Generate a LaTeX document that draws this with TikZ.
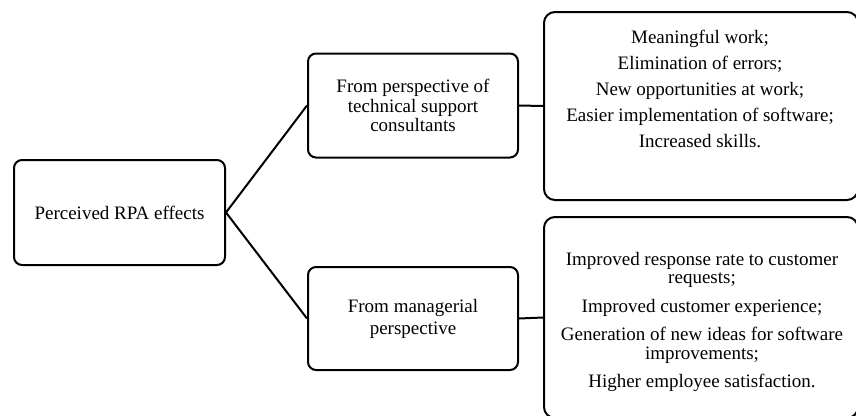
\documentclass[tikz,border=0pt]{standalone}
\usepackage{fontspec}
\setmainfont{Liberation Serif}
\begin{document}
\begin{tikzpicture}[x=1pt,y=-1pt,
  box/.style={draw=black, line width=2pt, rounded corners=8pt, inner sep=0pt, align=center},
  bigbox/.style={draw=black, line width=2pt, rounded corners=11pt, inner sep=0pt},
  txt/.style={align=center, inner sep=0pt, font=\fontsize{19}{19}\selectfont},
  conn/.style={draw=black, line width=2pt}]
\useasboundingbox (0,0) rectangle (856,415);
\clip (0,0) rectangle (856,415);
\fill[white] (0,0) rectangle (856,415);
\node[box, minimum width=211pt, minimum height=105pt, font=\fontsize{19}{19}\selectfont] (root) at (119.5,212.5) {Perceived RPA effects};
\node[box, minimum width=210pt, minimum height=104pt, font=\fontsize{19}{19.5}\selectfont] (tech) at (413,105.5) {From perspective of\\technical support\\consultants};
\node[box, minimum width=210pt, minimum height=103pt, font=\fontsize{19}{22}\selectfont] (mgr) at (413,318.5) {From managerial\\perspective};
\node[bigbox, minimum width=314pt, minimum height=188pt] (techfx) at (701,106) {};
\node[bigbox, minimum width=314pt, minimum height=201pt] (mgrfx) at (701,317.5) {};
\node[txt, font=\fontsize{19}{26}\selectfont] (techtxt) at (700,89) {Meaningful work;\\Elimination of errors;\\New opportunities at work;\\Easier implementation of software;\\Increased skills.};
\node[txt, font=\fontsize{19}{18.5}\selectfont] (mgrtxt) at (702,322) {Improved response rate to customer\\requests;\\[10pt]Improved customer experience;\\[10pt]Generation of new ideas for software\\improvements;\\[10pt]Higher employee satisfaction.};
\draw[conn] (root.east) -- (tech.west);
\draw[conn] (root.east) -- (mgr.west);
\draw[conn] (tech.east) -- (techfx.west);
\draw[conn] (mgr.east) -- (mgrfx.west);
\end{tikzpicture}
\end{document}
